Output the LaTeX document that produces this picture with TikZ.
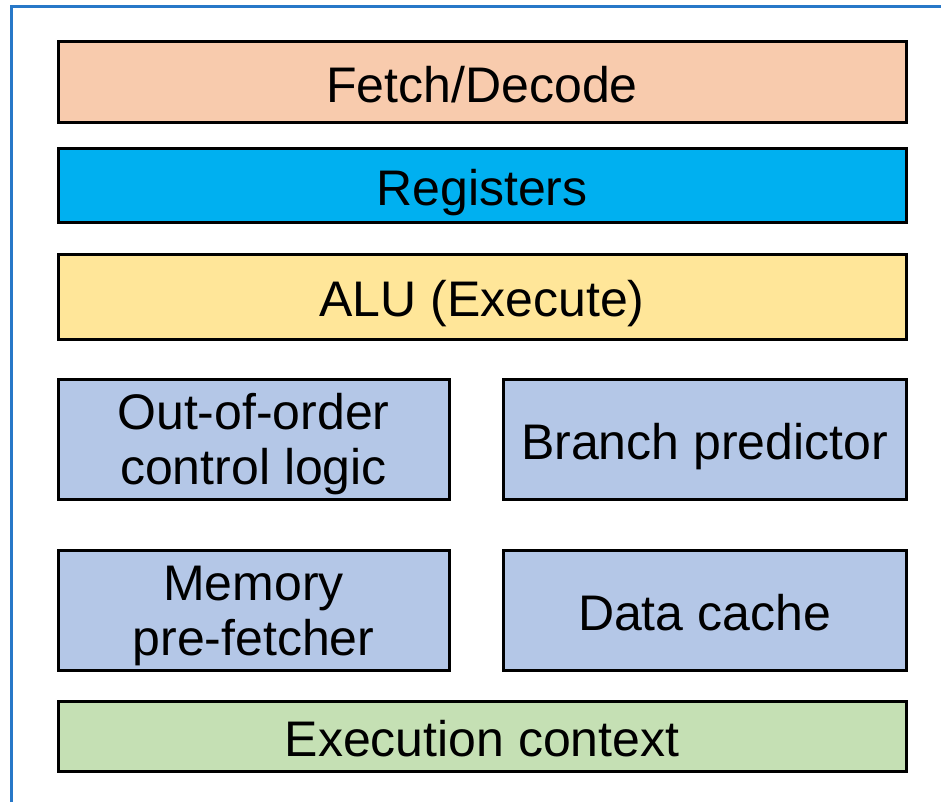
\documentclass[tikz,border=0pt]{standalone}
\usepackage{fontspec}
\setmainfont{Liberation Sans}
\definecolor{framec}{RGB}{40,120,200}
\definecolor{fetchc}{RGB}{248,203,173}
\definecolor{regc}{RGB}{0,176,240}
\definecolor{aluc}{RGB}{255,230,153}
\definecolor{unitc}{RGB}{180,199,231}
\definecolor{ctxc}{RGB}{197,224,180}
\begin{document}
\begin{tikzpicture}[x=1pt, y=-1pt, line join=miter,
		blk/.style={draw=black, line width=3pt, inner sep=0pt, outer sep=0pt, align=center,
			font=\fontsize{50}{55}\selectfont, text height=40pt, text depth=0pt},
		wide/.style={blk, minimum width=848pt},
		half/.style={blk, minimum width=391pt, minimum height=120pt},
		twoline/.style={text height=90pt, text depth=0pt}]
		\useasboundingbox (0,0) rectangle (941,802);
		\draw[framec, line width=3pt] (11,802) coordinate (F1) -- (11,7) coordinate (F2) -- (941,7) coordinate (F3);
		\node[wide, fill=fetchc, minimum height=81pt] (fetch) at (482,82.5) {Fetch/Decode};
		\node[wide, fill=regc, minimum height=74pt] (regs) at (482,186) {Registers};
		\node[wide, fill=aluc, minimum height=85pt] (alu) at (482,296.5) {ALU (Execute)};
		\node[half, twoline, fill=unitc] (ooo) at (253.5,439) {Out-of-order\\control logic};
		\node[blk, fill=unitc, minimum width=403pt, minimum height=120pt] (bp) at (704.5,439) {Branch predictor};
		\node[half, twoline, fill=unitc] (pref) at (253.5,610) {Memory\\pre-fetcher};
		\node[blk, fill=unitc, minimum width=403pt, minimum height=120pt] (dc) at (704.5,610) {Data cache};
		\node[wide, fill=ctxc, minimum height=70pt] (ctx) at (482,736) {Execution context};
	\end{tikzpicture}
\end{document}
